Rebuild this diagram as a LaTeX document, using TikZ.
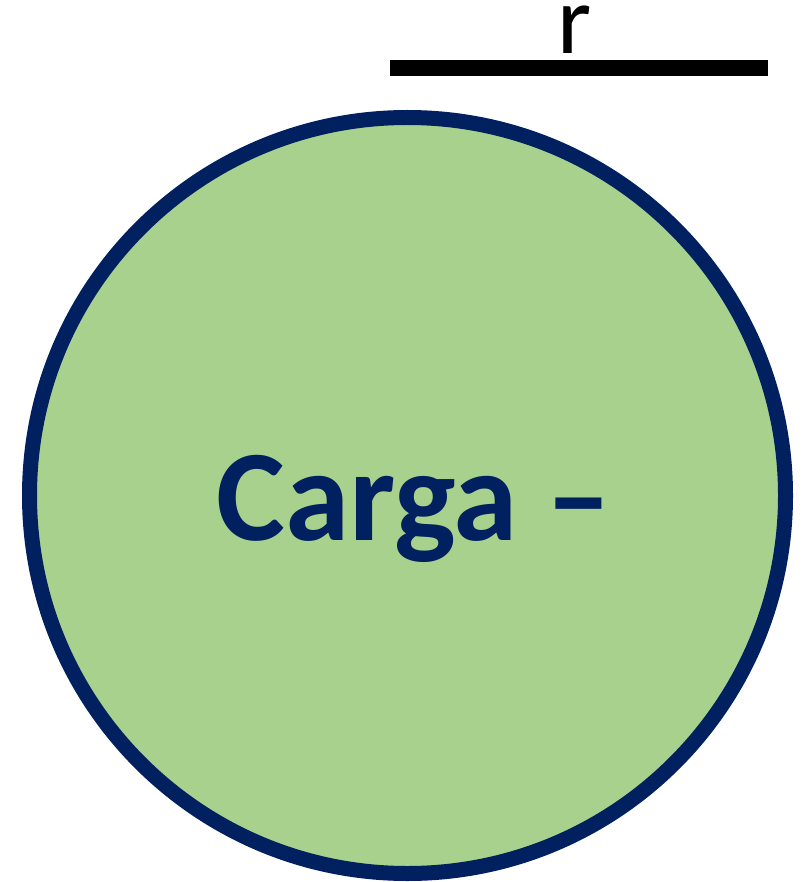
\documentclass[tikz,border=0pt]{standalone}
\usepackage{fontspec}
\setmainfont{Carlito}
\usetikzlibrary{positioning}
\definecolor{chargeGreen}{HTML}{A9D18E}
\definecolor{chargeNavy} {HTML}{002060}
\tikzset{
  charge/.style={circle,draw=chargeNavy,line width=15pt,fill=chargeGreen,
    minimum size=756pt,inner sep=0pt},
  chargelabel/.style={font=\fontsize{130}{150}\selectfont\bfseries,text=chargeNavy,anchor=base,inner sep=0pt},
  radiusbar/.style={draw=black,line width=16pt},
  radiuslabel/.style={font=\fontsize{98}{116}\selectfont,text=black,anchor=base,inner sep=0pt},
}
\begin{document}
\begin{tikzpicture}[x=1pt,y=-1pt]

\useasboundingbox (0,0) rectangle (810,882);

\node[charge] (ball) at (407.5,495.5) {};
\node[chargelabel] (name) at (414,540) {Carga –};

\coordinate (barL) at (390,68);
\coordinate (barR) at (768,68);
\draw[radiusbar] (barL) -- (barR);
\node[radiuslabel] (r) at (575,54) {r};

\end{tikzpicture}
\end{document}
